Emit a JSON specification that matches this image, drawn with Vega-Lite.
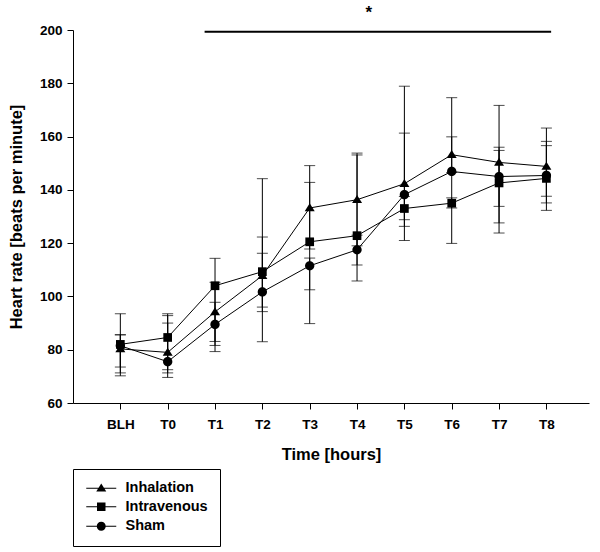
{
  "$schema": "https://vega.github.io/schema/vega-lite/v6.json",
  "autosize": "none",
  "width": 516,
  "height": 373,
  "padding": {"left": 73, "top": 30, "right": 11, "bottom": 149},
  "background": "white",
  "config": {
    "view": {"stroke": null},
    "axis": {
      "grid": false,
      "domainColor": "black",
      "domainWidth": 1,
      "tickColor": "black",
      "tickSize": 6,
      "labelFont": "Liberation Sans",
      "labelFontWeight": "bold",
      "labelFontSize": 13.5,
      "labelColor": "black",
      "titleFont": "Liberation Sans",
      "titleFontWeight": "bold",
      "titleFontSize": 16.5,
      "titleColor": "black"
    }
  },
  "data": {
    "values": [
      {"t": 1, "group": "Inhalation", "mean": 80.3, "lo": 73.5, "hi": 85.6},
      {"t": 1, "group": "Intravenous", "mean": 82.0, "lo": 70.2, "hi": 93.5},
      {"t": 1, "group": "Sham", "mean": 81.5, "lo": 71.3, "hi": 85.6},
      {"t": 2, "group": "Inhalation", "mean": 79.0, "lo": 71.3, "hi": 92.8},
      {"t": 2, "group": "Intravenous", "mean": 84.6, "lo": 72.5, "hi": 93.5},
      {"t": 2, "group": "Sham", "mean": 75.5, "lo": 69.6, "hi": 90.0},
      {"t": 3, "group": "Inhalation", "mean": 94.2, "lo": 83.1, "hi": 105.3},
      {"t": 3, "group": "Intravenous", "mean": 104.0, "lo": 81.6, "hi": 114.3},
      {"t": 3, "group": "Sham", "mean": 89.5, "lo": 79.3, "hi": 97.8},
      {"t": 4, "group": "Inhalation", "mean": 107.8, "lo": 94.3, "hi": 144.2},
      {"t": 4, "group": "Intravenous", "mean": 109.3, "lo": 96.0, "hi": 122.3},
      {"t": 4, "group": "Sham", "mean": 101.7, "lo": 83.0, "hi": 116.2},
      {"t": 5, "group": "Inhalation", "mean": 133.2, "lo": 117.8, "hi": 149.1},
      {"t": 5, "group": "Intravenous", "mean": 120.5, "lo": 102.5, "hi": 142.8},
      {"t": 5, "group": "Sham", "mean": 111.5, "lo": 89.8, "hi": 114.4},
      {"t": 6, "group": "Inhalation", "mean": 136.3, "lo": 119.0, "hi": 153.8},
      {"t": 6, "group": "Intravenous", "mean": 122.8, "lo": 111.8, "hi": 153.1},
      {"t": 6, "group": "Sham", "mean": 117.5, "lo": 105.8, "hi": 123.0},
      {"t": 7, "group": "Inhalation", "mean": 142.3, "lo": 121.0, "hi": 161.3},
      {"t": 7, "group": "Intravenous", "mean": 133.0, "lo": 128.8, "hi": 137.5},
      {"t": 7, "group": "Sham", "mean": 138.2, "lo": 126.3, "hi": 178.9},
      {"t": 8, "group": "Inhalation", "mean": 153.2, "lo": 146.5, "hi": 159.9},
      {"t": 8, "group": "Intravenous", "mean": 135.0, "lo": 133.2, "hi": 137.0},
      {"t": 8, "group": "Sham", "mean": 146.9, "lo": 119.9, "hi": 174.6},
      {"t": 9, "group": "Inhalation", "mean": 150.3, "lo": 133.8, "hi": 171.7},
      {"t": 9, "group": "Intravenous", "mean": 142.6, "lo": 123.8, "hi": 154.8},
      {"t": 9, "group": "Sham", "mean": 145.0, "lo": 127.6, "hi": 156.0},
      {"t": 10, "group": "Inhalation", "mean": 148.8, "lo": 135.1, "hi": 163.2},
      {"t": 10, "group": "Intravenous", "mean": 144.3, "lo": 137.6, "hi": 156.6},
      {"t": 10, "group": "Sham", "mean": 145.4, "lo": 132.3, "hi": 158.2}
    ]
  },
  "encoding": {
    "x": {
      "field": "t",
      "type": "quantitative",
      "title": "Time [hours]",
      "scale": {"domain": [0, 10.9], "nice": false, "zero": false},
      "axis": {
        "values": [1, 2, 3, 4, 5, 6, 7, 8, 9, 10],
        "labelExpr": "['','BLH','T0','T1','T2','T3','T4','T5','T6','T7','T8'][datum.value]",
        "labelPadding": 8,
        "titlePadding": 16
      }
    },
    "y": {
      "field": "mean",
      "type": "quantitative",
      "title": "Heart rate [beats per minute]",
      "scale": {"domain": [60, 200], "nice": false, "zero": false},
      "axis": {
        "values": [60, 80, 100, 120, 140, 160, 180, 200],
        "labelPadding": 5,
        "titlePadding": 15
      }
    }
  },
  "resolve": {"scale": {"shape": "independent"}},
  "layer": [
    {
      "mark": {"type": "rule", "color": "black", "strokeWidth": 1},
      "encoding": {
        "y": {"field": "lo", "type": "quantitative", "title": "Heart rate [beats per minute]"},
        "y2": {"field": "hi"}
      }
    },
    {
      "mark": {"type": "tick", "orient": "horizontal", "color": "black", "size": 11, "thickness": 1},
      "encoding": {
        "y": {"field": "lo", "type": "quantitative", "title": "Heart rate [beats per minute]"}
      }
    },
    {
      "mark": {"type": "tick", "orient": "horizontal", "color": "black", "size": 11, "thickness": 1},
      "encoding": {
        "y": {"field": "hi", "type": "quantitative", "title": "Heart rate [beats per minute]"}
      }
    },
    {
      "mark": {"type": "line", "color": "black", "strokeWidth": 1},
      "encoding": {
        "detail": {"field": "group", "type": "nominal"}
      }
    },
    {
      "mark": {"type": "point", "filled": true, "color": "black", "opacity": 1, "size": 100},
      "encoding": {
        "shape": {
          "field": "group",
          "type": "nominal",
          "scale": {
            "domain": ["Inhalation", "Intravenous", "Sham"],
            "range": [
              "M0,-0.95L1,0.65H-1Z",
              "M-0.87,-0.87H0.87V0.87H-0.87Z",
              "M0.93,0A0.93,0.93,0,1,1,-0.93,0A0.93,0.93,0,1,1,0.93,0Z"
            ]
          },
          "legend": null
        }
      }
    },
    {
      "data": {"values": []},
      "mark": {"type": "point", "filled": true, "color": "black", "opacity": 1, "size": 100},
      "encoding": {
        "shape": {
          "field": "group",
          "type": "nominal",
          "scale": {
            "domain": ["Inhalation", "Intravenous", "Sham"],
            "range": [
              "M-3,-0.1H3V0.1H-3ZM0,-0.95L1,0.65H-1Z",
              "M-3,-0.1H3V0.1H-3ZM-0.85,-0.85H0.85V0.85H-0.85Z",
              "M-3,-0.1H3V0.1H-3ZM0.9,0A0.9,0.9,0,1,1,-0.9,0A0.9,0.9,0,1,1,0.9,0Z"
            ]
          },
          "legend": {
            "title": null,
            "orient": "none",
            "legendX": 0,
            "legendY": 439,
            "padding": 12,
            "strokeColor": "black",
            "fillColor": "white",
            "symbolSize": 100,
            "symbolOffset": 9,
            "symbolFillColor": "black",
            "symbolOpacity": 1,
            "labelOffset": 17,
            "rowPadding": 3.5,
            "labelFont": "Liberation Sans",
            "labelFontWeight": "bold",
            "labelFontSize": 14.5,
            "labelColor": "black"
          }
        }
      }
    },
    {
      "data": {"values": [{"t": 2.78, "t2": 10.1, "mean": 199.3}]},
      "mark": {"type": "rule", "color": "black", "strokeWidth": 2},
      "encoding": {
        "x2": {"field": "t2"}
      }
    },
    {
      "data": {"values": [{"t": 6.25, "mean": 206.3, "label": "*"}]},
      "mark": {"type": "text", "color": "black", "font": "Liberation Sans", "fontWeight": "bold", "fontSize": 17, "baseline": "middle", "align": "center"},
      "encoding": {
        "text": {"field": "label", "type": "nominal"}
      }
    }
  ]
}
